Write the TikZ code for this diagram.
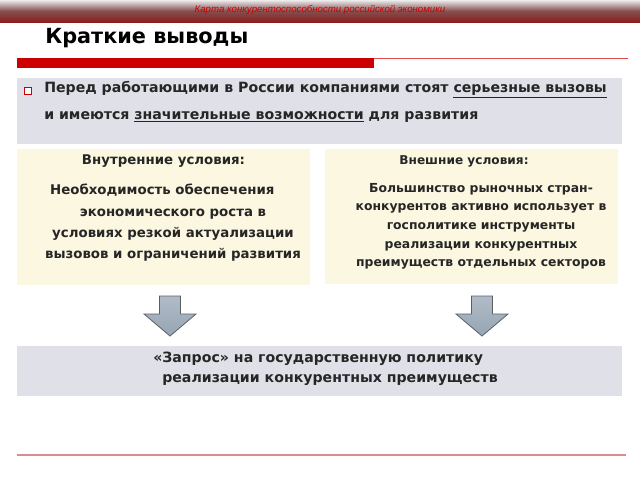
\documentclass[tikz,border=0pt]{standalone}
\usepackage{fontspec}
\usetikzlibrary{calc}
\setmainfont{DejaVu Sans}
\newfontfamily\hdrfont{Liberation Sans}
\definecolor{boxgray}{RGB}{224,224,232}
\definecolor{beige}{RGB}{252,247,224}
\definecolor{barred}{RGB}{204,0,0}
\definecolor{linepink}{RGB}{220,140,140}
\definecolor{bandred}{RGB}{140,30,30}
\definecolor{arrowfill}{RGB}{150,165,180}
\definecolor{arrowedge}{RGB}{90,95,100}
\begin{document}
\begin{tikzpicture}[x=0.75pt,y=-0.75pt,
  hdr/.style={font=\hdrfont\itshape\fontsize{7.25}{8}\selectfont, text=barred, inner sep=0pt},
  titletext/.style={font=\bfseries\fontsize{15.6}{18}\selectfont, inner sep=0pt, anchor=west},
  bodytext/.style={font=\bfseries\fontsize{10.6}{20}\selectfont, text=black!85, inner sep=0pt, anchor=west},
  smalltext/.style={text=black!85, inner sep=0pt, align=center},
  blockarrow/.style={draw=arrowedge, line width=0.6pt, top color=arrowfill!75, bottom color=arrowfill, line join=miter}
]
\useasboundingbox (0,0) rectangle (640,480);
\fill[white] (0,0) rectangle (640,480);
% top band
\shade[top color=gray!15, bottom color=bandred, middle color=gray!50!bandred] (0,0) rectangle (640,22);
\node[hdr] (hdr) at (320,10) {Карта конкурентоспособности российской экономики};
% title
\node[titletext] (title) at (45,38) {Краткие выводы};
\fill[barred] (17,58) rectangle (374,68);
\draw[barred!70, line width=0.6pt] (374,58.5) -- (628,58.5);
% top gray box
\fill[boxgray] (17,78) rectangle (622,144);
\node[draw=barred, fill=white, minimum size=5.5pt, inner sep=0pt, line width=0.6pt] (bullet) at (28,91) {};
\node[bodytext] (l1) at (44,90) {Перед работающими в России компаниями стоят \underline{серьезные вызовы}};
\node[bodytext] (l2) at (44,117) {и имеются \underline{значительные возможности} для развития};
% beige boxes
\fill[beige] (17,149) rectangle (310,285);
\fill[beige] (325,149) rectangle (618,284);
\node[smalltext, font=\bfseries\fontsize{10}{12}\selectfont] (inh) at (163.5,161) {Внутренние условия:};
\node[smalltext, font=\bfseries\fontsize{10}{16}\selectfont, anchor=north] (inb) at (173,184) {Необходимость обеспечения\hspace*{16pt}\\экономического роста в\\условиях резкой актуализации\\вызовов и ограничений развития};
\node[smalltext, font=\bfseries\fontsize{9.1}{11}\selectfont] (exh) at (464,161) {Внешние условия:};
\node[smalltext, font=\bfseries\fontsize{9.3}{14}\selectfont, anchor=north] (exb) at (481,183) {Большинство рыночных стран-\\конкурентов активно использует в\\госполитике инструменты\\реализации конкурентных\\преимуществ отдельных секторов};
% arrows
\coordinate (la) at (170,296);
\coordinate (ra) at (482,296);
\path[blockarrow] ($(la)+(-10.5,0)$) -- ($(la)+(10.5,0)$) -- ($(la)+(10.5,18)$) -- ($(la)+(26,18)$) -- ($(la)+(0,40)$) -- ($(la)+(-26,18)$) -- ($(la)+(-10.5,18)$) -- cycle;
\path[blockarrow] ($(ra)+(-10.5,0)$) -- ($(ra)+(10.5,0)$) -- ($(ra)+(10.5,18)$) -- ($(ra)+(26,18)$) -- ($(ra)+(0,40)$) -- ($(ra)+(-26,18)$) -- ($(ra)+(-10.5,18)$) -- cycle;
% bottom box
\fill[boxgray] (17,346) rectangle (622,396);
\node[bodytext] (b1) at (153,359) {«Запрос» на государственную политику};
\node[bodytext] (b2) at (162,380) {реализации конкурентных преимуществ};
\draw[linepink, line width=1pt] (17,455) -- (626,455);
\end{tikzpicture}
\end{document}
